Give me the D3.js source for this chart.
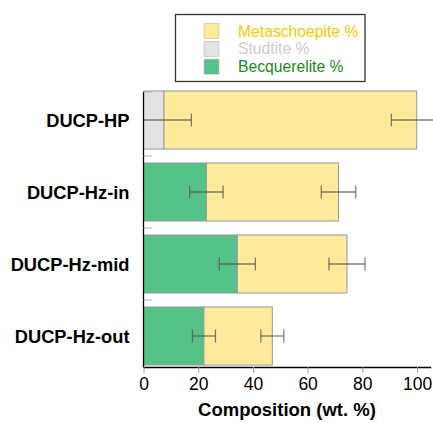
<!DOCTYPE html>
<html><head><meta charset="utf-8">
<script src="https://cdn.jsdelivr.net/npm/d3@7"></script>
<style>body{margin:0;background:#fff}svg{display:block}text{font-family:"Liberation Sans",Arial,sans-serif}</style>
</head><body><svg id="c" width="433" height="423"></svg>
<script>
const categories = ["DUCP-HP","DUCP-Hz-in","DUCP-Hz-mid","DUCP-Hz-out"];
const becquerelite = [0, 23.0, 34.3, 22.1];
const studtite = [7.5, 0, 0, 0];
const metaschoepite = [92.4, 48.3, 40.1, 25.0];
const errLower = [10.0, 6.1, 6.6, 4.2];   // error on first component
const errUpper = [9.3, 6.3, 6.6, 4.2];    // error on total
const xTicks = [0,20,40,60,80,100];
const seriesNames = ["Metaschoepite %","Studtite %","Becquerelite %"];
const colors = {"Metaschoepite %":"#FEEA9A","Studtite %":"#E3E3E3","Becquerelite %":"#55C389"};
const textColors = {"Metaschoepite %":"#F5C800","Studtite %":"#CCCCCC","Becquerelite %":"#1B8A1B"};

const svg = d3.select("#c");
const x = d3.scaleLinear().domain([0,105]).range([143.5, 430.7]);
const y = d3.scaleBand().domain(categories).range([84,372]).paddingInner(0.194).paddingOuter(0.097);

const stackData = categories.map((c,i)=>({cat:c,"Becquerelite %":becquerelite[i],"Studtite %":studtite[i],"Metaschoepite %":metaschoepite[i]}));
const stack = d3.stack().keys(["Becquerelite %","Studtite %","Metaschoepite %"])(stackData);

stack.forEach(layer=>{
  svg.append("g").selectAll("rect").data(layer.filter(d=>d[1]-d[0]>0)).join("rect")
    .attr("x",d=>x(d[0])).attr("width",d=>x(d[1])-x(d[0]))
    .attr("y",d=>y(d.data.cat)).attr("height",y.bandwidth())
    .attr("fill",colors[layer.key]).attr("stroke","#9a9a9a").attr("stroke-width",1);
});

// error bars
const eb = svg.append("g").attr("stroke","#555").attr("stroke-opacity",0.75).attr("stroke-width",1.3);
categories.forEach((c,i)=>{
  const first = becquerelite[i]+studtite[i];
  const total = first+metaschoepite[i];
  const cy = y(c)+y.bandwidth()/2;
  [[first,errLower[i]],[total,errUpper[i]]].forEach(([v,e])=>{
    const a = Math.max(0,v-e), b = v+e;
    eb.append("line").attr("x1",x(a)).attr("x2",x(b)).attr("y1",cy).attr("y2",cy);
    if (v-e>0) eb.append("line").attr("x1",x(v-e)).attr("x2",x(v-e)).attr("y1",cy-6.5).attr("y2",cy+6.5);
    eb.append("line").attr("x1",x(b)).attr("x2",x(b)).attr("y1",cy-6.5).attr("y2",cy+6.5);
  });
});

// x axis
const xa = svg.append("g").attr("transform","translate(0,367)")
  .call(d3.axisBottom(x).tickValues(xTicks).tickSize(6).tickPadding(5).tickSizeOuter(0));
xa.select(".domain").attr("stroke","#000").attr("stroke-width",1.3);
xa.selectAll(".tick line").attr("stroke","#999");
xa.selectAll(".tick text").attr("font-size",17.5).attr("fill","#000").attr("font-family","Liberation Sans, Arial, sans-serif");

// y axis
const ya = svg.append("g").attr("transform","translate(143.5,0)");
ya.append("line").attr("x1",0).attr("x2",0).attr("y1",92).attr("y2",367.6).attr("stroke","#000").attr("stroke-width",1.3);
const bounds = [92].concat(categories.slice(1).map(c=>y(c)-y.step()*y.paddingInner()/2));
ya.selectAll("line.tk").data(bounds).join("line").attr("class","tk")
  .attr("x1",0).attr("x2",8).attr("y1",d=>d).attr("y2",d=>d).attr("stroke","#aaa").attr("stroke-width",1);
ya.selectAll("text").data(categories).join("text")
  .attr("x",-14).attr("y",d=>y(d)+y.bandwidth()/2).attr("dy","0.36em")
  .attr("text-anchor","end").attr("font-size",18.3).attr("font-weight","bold").text(d=>d);

svg.append("text").attr("x",287).attr("y",416).attr("text-anchor","middle")
  .attr("font-size",18.5).attr("font-weight","bold").text("Composition (wt. %)");

// legend
const lg = svg.append("g");
lg.append("rect").attr("x",175.5).attr("y",14.5).attr("width",189.5).attr("height",67)
  .attr("fill","#fff").attr("stroke","#333").attr("stroke-width",1.3);
seriesNames.forEach((s,i)=>{
  lg.append("rect").attr("x",204).attr("y",23.5+i*17.8).attr("width",15).attr("height",15)
    .attr("fill",colors[s]).attr("stroke","#bbb").attr("stroke-width",0.6);
  lg.append("text").attr("x",238).attr("y",31+i*17.8).attr("dy","0.36em")
    .attr("font-size",15.7).attr("fill",textColors[s]).text(s);
});
</script></body></html>
